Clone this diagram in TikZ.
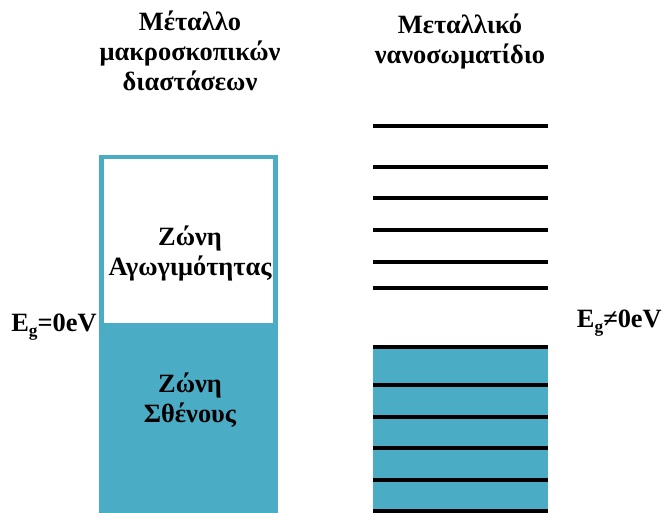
\documentclass[tikz,border=0pt]{standalone}
\usepackage{fontspec}
\setmainfont{Liberation Serif}
\definecolor{band}{HTML}{4BACC6}
\newcommand{\subg}{\raisebox{-0.45ex}{\fontsize{13}{13}\selectfont g}}
\begin{document}
\begin{tikzpicture}[x=0.75pt,y=-0.75pt,
  lbl/.style={font=\bfseries\fontsize{19.8}{22.5}\selectfont, align=center, inner sep=0pt},
  level/.style={line width=3.2pt, black}]
\useasboundingbox (0,0) rectangle (663,513);
% bulk metal: conduction band (outline) over filled valence band
\fill[band] (99,323) rectangle (278,513);
\draw[band, line width=3.5pt] (101.5,513) -- (101.5,157) -- (275.5,157) -- (275.5,323);
% nanoparticle: filled lower levels
\fill[band] (373,347) rectangle (548,513);
\foreach \y in {126,167,198,230,262,288,347,385,417,448,480,511}
  \draw[level] (373,\y) -- (548,\y);
% headings
\node[lbl] (h1) at (190,51) {Μέταλλο\\μακροσκοπικών\\διαστάσεων};
\node[lbl] (h2) at (460,42) {Μεταλλικό\\νανοσωματίδιο};
% band labels
\node[lbl] (cb) at (190,253) {Ζώνη\\Αγωγιμότητας};
\node[lbl] (vb) at (190,400) {Ζώνη\\Σθένους};
% gap labels
\node[lbl, anchor=west] (g0) at (11,327) {E\subg=0eV};
\node[lbl, anchor=east] (g1) at (662,323) {E\subg≠0eV};
\end{tikzpicture}
\end{document}
